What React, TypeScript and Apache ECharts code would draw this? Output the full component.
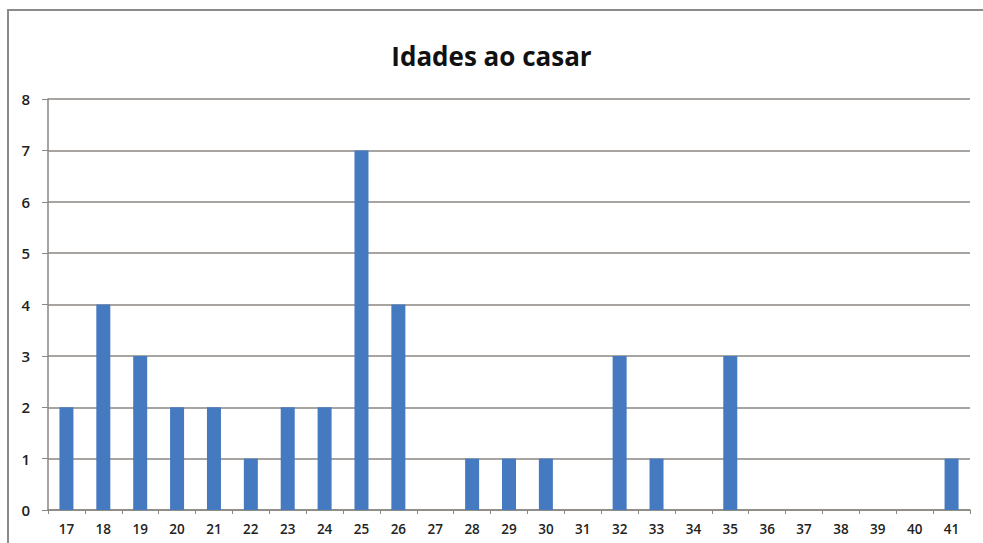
import React, { useEffect, useRef } from "react";
import * as echarts from "echarts";

const title = "Idades ao casar";
const ages = ["17","18","19","20","21","22","23","24","25","26","27","28","29","30","31","32","33","34","35","36","37","38","39","40","41"];
const counts = [2,4,3,2,2,1,2,2,7,4,0,1,1,1,0,3,1,0,3,0,0,0,0,0,1];
const yMin = 0;
const yMax = 8;

export default function App() {
  const ref = useRef<HTMLDivElement>(null);
  useEffect(() => {
    if (!ref.current) return;
    const chart = echarts.init(ref.current, undefined, { renderer: "svg" });
    const axisColor = "#8a8682";
    chart.setOption({
      animation: false,
      backgroundColor: "#ffffff",
      title: {
        text: title,
        left: "center",
        top: 38,
        textStyle: { fontFamily: "Open Sans", fontWeight: "bold", fontSize: 26, color: "#111" },
      },
      graphic: [
        {
          type: "rect",
          shape: { x: 8, y: 10, width: 1000, height: 600 },
          style: { fill: "none", stroke: "#8a8a8a", lineWidth: 2 },
          silent: true,
        },
      ],
      grid: { left: 48, right: 13, top: 99, bottom: 33 },
      xAxis: {
        type: "category",
        data: ages,
        boundaryGap: true,
        axisLine: { lineStyle: { color: axisColor, width: 1.5 } },
        axisTick: { show: true, alignWithLabel: false, length: 4, lineStyle: { color: axisColor } },
        axisLabel: { color: "#222", fontFamily: "Open Sans", fontWeight: 600, fontSize: 13.5, margin: 12, interval: 0 },
      },
      yAxis: {
        type: "value",
        min: yMin,
        max: yMax,
        interval: 1,
        axisLine: { show: true, lineStyle: { color: axisColor, width: 1.5 } },
        axisTick: { show: true, length: 6, lineStyle: { color: axisColor } },
        splitLine: { lineStyle: { color: axisColor, width: 1.5 } },
        axisLabel: { color: "#222", fontFamily: "Open Sans", fontWeight: 600, fontSize: 15, margin: 18 },
      },
      series: [
        {
          type: "bar",
          data: counts,
          barWidth: 14,
          itemStyle: { color: "#4579c0" },
        },
      ],
    });
    return () => chart.dispose();
  }, []);
  return <div ref={ref} style={{ position: "fixed", left: 0, top: 0, width: 983, height: 543 }} />;
}
